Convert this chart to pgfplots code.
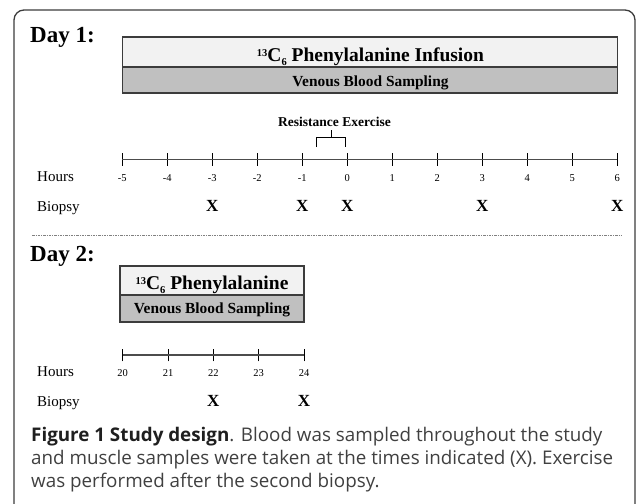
\documentclass[border=0pt]{standalone}
\usepackage{pgfplots}
\pgfplotsset{compat=1.18}
\usepackage{fontspec}
\setmainfont{Liberation Serif}
\newfontfamily\capfont{Open Sans}
\definecolor{boxlight}{HTML}{F2F2F2}
\definecolor{boxdark}{HTML}{C0C0C0}
\definecolor{framec}{HTML}{3C3C3C}
\definecolor{captxt}{HTML}{404040}
\newcommand\fs[1]{\fontsize{#1}{#1}\selectfont}
\newcommand\iso{{\fs{10.5}\raisebox{4.3pt}{13}}C{\fs{10.5}\raisebox{-4pt}{6}}}
\pgfplotsset{timeline/.style={scale only axis, anchor=south west,
  axis x line*=bottom, axis y line=none,
  axis line style={line width=1.3pt, color=black!70},
  tick align=center, major tick length=12.7pt,
  tick style={black, line width=0.8pt},
  xticklabel style={font=\fs{10.5}, anchor=base, yshift=-15.5pt, inner sep=0pt},
  ytick=\empty, clip=false}}
\begin{document}
\begin{tikzpicture}
\useasboundingbox (0pt,0pt) rectangle (636pt,-503pt);
\begin{scope}[x=1pt,y=-1pt]
  \draw[line width=1.3pt, color=framec, rounded corners=10pt] (14,515) -- (14,10) -- (635,10) -- (635,515);
  \node[anchor=base west, inner sep=0, font=\fs{23}\bfseries] at (30,42) {Day 1:};
  \node[anchor=base west, inner sep=0, font=\fs{23}\bfseries] at (30,261) {Day 2:};
\end{scope}

% ---------------- Day 1 ----------------
\begin{axis}[timeline, at={(122.3pt,-159.5pt)}, width=495pt, height=125pt,
  xmin=-5, xmax=6, ymin=0, ymax=125,
  xtick={-5,-4,-3,-2,-1,0,1,2,3,4,5,6},
  xticklabels={-5,-4,-3,-2,-1,0,1,2,3,4,5,6}]
  \addplot[draw=framec, line width=1.2pt, fill=boxdark] coordinates {(-5,66.5) (6,66.5) (6,92.5) (-5,92.5)} -- cycle;
  \addplot[draw=framec, line width=1.2pt, fill=boxlight] coordinates {(-5,92.5) (6,92.5) (6,122.5) (-5,122.5)} -- cycle;
  \addplot[black, line width=1pt] coordinates {(-0.69,12.5) (-0.69,22.5) (-0.03,22.5) (-0.03,12.5)};
  \addplot[black, line width=1pt] coordinates {(-0.35,22.5) (-0.35,29.5)};
  \addplot[only marks, mark=text, text mark={X}, text mark as node,
    text mark style={font=\fs{17}\bfseries}] coordinates {(-3,-46.5) (-1,-46.5) (0,-46.5) (3,-46.5) (6,-46.5)};
\end{axis}

% ---------------- Day 2 ----------------
\begin{axis}[timeline, at={(122.7pt,-355pt)}, width=181.3pt, height=92pt,
  xmin=20, xmax=24, ymin=0, ymax=92,
  xtick={20,21,22,23,24},
  xticklabels={20,21,22,23,24}]
  \addplot[draw=framec, line width=1.2pt, fill=boxdark] coordinates {(19.94,33) (24,33) (24,60) (19.94,60)} -- cycle;
  \addplot[draw=framec, line width=1.2pt, fill=boxlight] coordinates {(19.94,60) (24,60) (24,89) (19.94,89)} -- cycle;
  \addplot[only marks, mark=text, text mark={X}, text mark as node,
    text mark style={font=\fs{17}\bfseries}] coordinates {(22,-45.5) (24,-45.5)};
\end{axis}

\begin{scope}[x=1pt,y=-1pt]
  \node[anchor=base, inner sep=0, font=\fs{19.5}\bfseries] at (370.5,61) {\iso\ Phenylalanine Infusion};
  \node[anchor=base, inner sep=0, font=\fs{15.4}\bfseries] at (370.5,86) {Venous Blood Sampling};
  \node[anchor=base, inner sep=0, font=\fs{13.5}\bfseries] at (334.5,126) {Resistance Exercise};
  \node[anchor=base west, inner sep=0, font=\fs{15}] at (37,181.7) {Hours};
  \node[anchor=base west, inner sep=0, font=\fs{15}] at (37,211.7) {Biopsy};
  \draw[color=black!50, line width=0.9pt, dash pattern=on 2.5pt off 1pt on 1pt off 1pt] (32,235) -- (621,235);
  \node[anchor=base, inner sep=0, font=\fs{19.5}\bfseries] at (212,289) {\iso\ Phenylalanine};
  \node[anchor=base, inner sep=0, font=\fs{15.4}\bfseries] at (212,313) {Venous Blood Sampling};
  \node[anchor=base west, inner sep=0, font=\fs{15}] at (37,376.7) {Hours};
  \node[anchor=base west, inner sep=0, font=\fs{15}] at (37,406) {Biopsy};
  \node[anchor=base west, inner sep=0, text=captxt, font=\capfont\fs{18.8}] at (31,441)
    {{\bfseries\color{black!88}Figure 1 Study design}. Blood was sampled throughout the study};
  \node[anchor=base west, inner sep=0, text=captxt, font=\capfont\fs{18.8}] at (31,464)
    {and muscle samples were taken at the times indicated (X). Exercise};
  \node[anchor=base west, inner sep=0, text=captxt, font=\capfont\fs{18.8}] at (31,487)
    {was performed after the second biopsy.};
\end{scope}
\end{tikzpicture}
\end{document}
